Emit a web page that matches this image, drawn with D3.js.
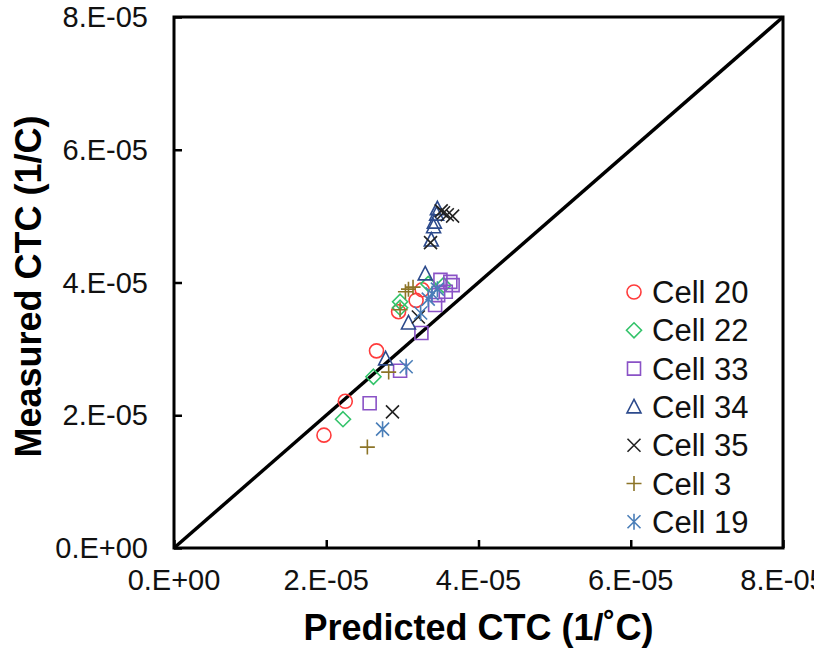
<!DOCTYPE html>
<html>
<head>
<meta charset="utf-8">
<script src="https://cdn.jsdelivr.net/npm/d3@7"></script>
<style>
  html, body { margin: 0; padding: 0; background: #fff; }
  svg { display: block; font-family: Arial, "Liberation Sans", sans-serif; }
</style>
</head>
<body>
<svg id="chart" width="814" height="649"></svg>
<script>
// Predicted vs measured CTC values (units of 1E-05)
const cell20 = [[1.97, 1.70], [2.25, 2.21], [2.66, 2.97], [2.95, 3.56], [3.18, 3.73], [3.26, 3.89]];
const cell22 = [[2.22, 1.94], [2.62, 2.58], [2.97, 3.62], [2.97, 3.71], [3.34, 3.98], [3.54, 3.96]];
const cell33 = [[2.57, 2.18], [2.97, 2.67], [3.25, 3.24], [3.43, 3.66], [3.47, 3.81], [3.57, 3.86], [3.50, 4.04], [3.63, 4.01], [3.66, 3.96]];
const cell34 = [[2.78, 2.85], [3.08, 3.39], [3.30, 4.13], [3.38, 4.64], [3.41, 4.84], [3.42, 4.91], [3.45, 5.03], [3.46, 5.11]];
const cell35 = [[2.87, 2.05], [3.21, 3.48], [3.37, 4.60], [3.51, 5.08], [3.54, 5.05], [3.59, 5.02], [3.66, 5.00]];
const cell3  = [[2.54, 1.52], [2.82, 2.65], [2.97, 3.59], [3.04, 3.86], [3.08, 3.90], [3.14, 3.93]];
const cell19 = [[2.74, 1.79], [3.05, 2.73], [3.24, 3.54], [3.34, 3.75], [3.39, 3.83], [3.46, 3.90]];

const seriesNames = ["Cell 20", "Cell 22", "Cell 33", "Cell 34", "Cell 35", "Cell 3", "Cell 19"];
const seriesData = [cell20, cell22, cell33, cell34, cell35, cell3, cell19];
const seriesMarkers = ["circle", "diamond", "square", "triangle", "times", "plus", "asterisk"];
const seriesColors = ["#ff3b3b", "#33c36a", "#8a52c6", "#2c4a8c", "#222222", "#8c7427", "#4a7eb8"];

const tickValues = [0, 2, 4, 6, 8];
const tickLabels = ["0.E+00", "2.E-05", "4.E-05", "6.E-05", "8.E-05"];

const svg = d3.select("#chart");
const plotLeft = 174, plotRight = 783, plotTop = 17, plotBottom = 548;

const x = d3.scaleLinear().domain([0, 8]).range([plotLeft, plotRight]);
const y = d3.scaleLinear().domain([0, 8]).range([plotBottom, plotTop]);

// marker path generators, centred on 0,0
function markerPath(kind) {
  switch (kind) {
    case "circle": { const r = 7; return `M${r},0A${r},${r} 0 1,1 ${-r},0A${r},${r} 0 1,1 ${r},0Z`; }
    case "diamond": { const r = 7.5; return `M0,${-r}L${r},0L0,${r}L${-r},0Z`; }
    case "square": { const r = 6.5; return `M${-r},${-r}H${r}V${r}H${-r}Z`; }
    case "triangle": return "M0,-7.5L7,6L-7,6Z";
    case "times": { const r = 6.5; return `M${-r},${-r}L${r},${r}M${r},${-r}L${-r},${r}`; }
    case "plus": { const r = 7.5; return `M${-r},0H${r}M0,${-r}V${r}`; }
    case "asterisk": { const r = 6.5; return `M${-r},${-r}L${r},${r}M${r},${-r}L${-r},${r}M0,-8V8`; }
  }
}

// frame
svg.append("rect")
  .attr("x", plotLeft).attr("y", plotTop)
  .attr("width", plotRight - plotLeft).attr("height", plotBottom - plotTop)
  .attr("fill", "none").attr("stroke", "#000").attr("stroke-width", 3);

// inward ticks
const xAxis = d3.axisBottom(x).tickValues(tickValues).tickSize(-8).tickFormat("");
const yAxis = d3.axisLeft(y).tickValues(tickValues).tickSize(-8).tickFormat("");
const gx = svg.append("g").attr("transform", `translate(0,${plotBottom})`).call(xAxis);
const gy = svg.append("g").attr("transform", `translate(${plotLeft},0)`).call(yAxis);
[gx, gy].forEach(g => {
  g.select(".domain").remove();
  g.selectAll(".tick line").attr("stroke", "#000").attr("stroke-width", 2.5);
});

// tick labels (the last x label runs past the right edge of the canvas)
svg.append("g").selectAll("text").data(tickValues).join("text")
  .attr("x", d => x(d)).attr("y", plotBottom + 42)
  .attr("text-anchor", "middle").attr("font-size", 29).attr("fill", "#111")
  .text((d, i) => tickLabels[i]);
svg.append("g").selectAll("text").data(tickValues).join("text")
  .attr("x", 148).attr("y", d => y(d) + 10)
  .attr("text-anchor", "end").attr("font-size", 29).attr("fill", "#111")
  .text((d, i) => tickLabels[i]);

// 1:1 line
svg.append("line")
  .attr("x1", x(0)).attr("y1", y(0)).attr("x2", x(8)).attr("y2", y(8))
  .attr("stroke", "#000").attr("stroke-width", 3.5);

// data markers
seriesData.forEach((pts, i) => {
  svg.append("g").selectAll("path").data(pts).join("path")
    .attr("transform", d => `translate(${x(d[0])},${y(d[1])})`)
    .attr("d", markerPath(seriesMarkers[i]))
    .attr("fill", "none")
    .attr("stroke", seriesColors[i])
    .attr("stroke-width", 1.6);
});

// legend
const legend = svg.append("g");
seriesNames.forEach((name, i) => {
  const cy = 292 + i * 38.3;
  legend.append("path")
    .attr("transform", `translate(634,${cy})`)
    .attr("d", markerPath(seriesMarkers[i]))
    .attr("fill", "none").attr("stroke", seriesColors[i]).attr("stroke-width", 1.6);
  legend.append("text")
    .attr("x", 652).attr("y", cy + 11)
    .attr("font-size", 31).attr("fill", "#111")
    .text(name);
});

// axis titles
svg.append("text")
  .attr("x", (plotLeft + plotRight) / 2).attr("y", 640)
  .attr("text-anchor", "middle").attr("font-size", 36).attr("font-weight", "bold")
  .text("Predicted CTC (1/˚C)");
svg.append("text")
  .attr("transform", `translate(41,${(plotTop + plotBottom) / 2 + 4}) rotate(-90)`)
  .attr("text-anchor", "middle").attr("font-size", 36).attr("font-weight", "bold")
  .text("Measured CTC (1/C)");
</script>
</body>
</html>
